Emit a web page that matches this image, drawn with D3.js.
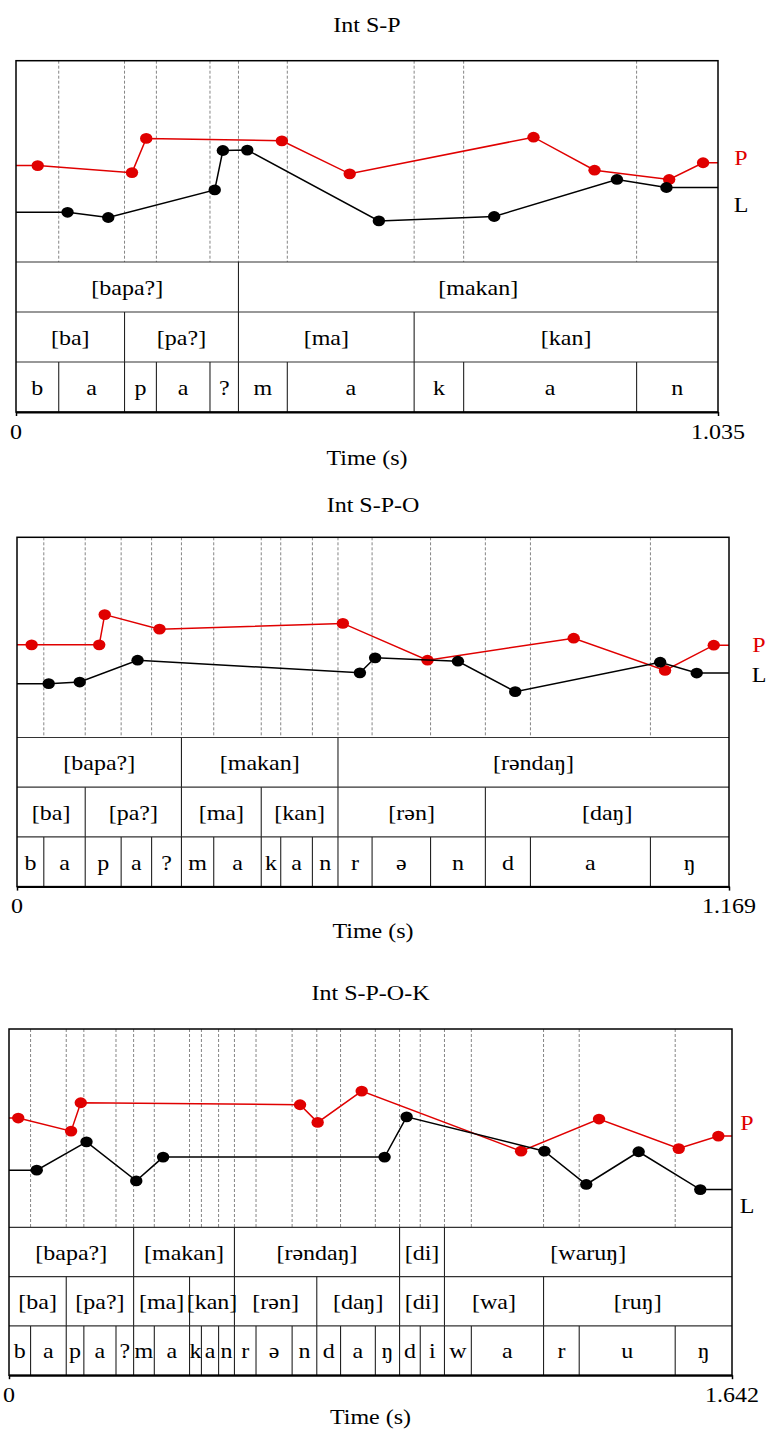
<!DOCTYPE html>
<html>
<head>
<meta charset="utf-8">
<script src="https://cdn.jsdelivr.net/npm/d3@7"></script>
<style>
  body { margin: 0; background: #fff; }
  svg text { font-family: "Liberation Serif", "Times New Roman", serif; }
</style>
</head>
<body>
<svg id="chart" width="766" height="1430"></svg>
<script>

// ---- Int S-P ----
let sp_titles = "Int S-P",
    sp_end = 1.035;
let sp_redT = [0.032, 0.171, 0.192, 0.392, 0.492, 0.763, 0.853, 0.963, 1.013],
    sp_redV = [47.9, 44.4, 61.4, 60.2, 43.8, 62.0, 45.6, 41.0, 49.3],
    sp_blackT = [0.076, 0.136, 0.293, 0.305, 0.341, 0.535, 0.705, 0.886, 0.959],
    sp_blackV = [24.7, 22.1, 35.8, 55.4, 55.6, 20.4, 22.6, 41.0, 37.0];
let sp_words = ["[bapa?]", "[makan]"],
    sp_wordEnds = [0.328, 1.035],
    sp_syls = ["[ba]", "[pa?]", "[ma]", "[kan]"],
    sp_sylEnds = [0.160, 0.328, 0.587, 1.035],
    sp_segs = ["b", "a", "p", "a", "?", "m", "a", "k", "a", "n"],
    sp_segEnds = [0.063, 0.160, 0.207, 0.286, 0.328, 0.400, 0.587, 0.660, 0.915, 1.035];

// ---- Int S-P-O ----
let spo_titles = "Int S-P-O",
    spo_end = 1.169;
let spo_redT = [0.024, 0.135, 0.144, 0.234, 0.535, 0.674, 0.914, 1.064, 1.144],
    spo_redV = [46.3, 46.3, 61.4, 54.1, 57.0, 38.6, 49.6, 33.5, 46.1],
    spo_blackT = [0.052, 0.103, 0.198, 0.563, 0.588, 0.724, 0.818, 1.056, 1.116],
    spo_blackV = [26.9, 27.7, 38.6, 32.3, 39.8, 38.1, 22.9, 37.6, 32.2];
let spo_words = ["[bapa?]", "[makan]", "[rəndaŋ]"],
    spo_wordEnds = [0.270, 0.527, 1.169],
    spo_syls = ["[ba]", "[pa?]", "[ma]", "[kan]", "[rən]", "[daŋ]"],
    spo_sylEnds = [0.112, 0.270, 0.401, 0.527, 0.769, 1.169],
    spo_segs = ["b", "a", "p", "a", "?", "m", "a", "k", "a", "n", "r", "ə", "n", "d", "a", "ŋ"],
    spo_segEnds = [0.044, 0.112, 0.171, 0.221, 0.270, 0.323, 0.401, 0.433, 0.485, 0.527,
                   0.583, 0.679, 0.769, 0.843, 1.040, 1.169];

// ---- Int S-P-O-K ----
let spok_titles = "Int S-P-O-K",
    spok_end = 1.642;
let spok_redT = [0.021, 0.141, 0.163, 0.661, 0.701, 0.801, 1.163, 1.340, 1.521, 1.611],
    spok_redV = [55.1, 48.5, 62.8, 61.8, 52.9, 68.7, 38.4, 54.6, 39.7, 46.0],
    spok_blackT = [0.063, 0.176, 0.289, 0.350, 0.853, 0.903, 1.216, 1.311, 1.430, 1.570],
    spok_blackV = [28.8, 43.1, 23.4, 35.4, 35.4, 55.7, 38.4, 21.6, 38.1, 19.0];
let spok_words = ["[bapa?]", "[makan]", "[rəndaŋ]", "[di]", "[waruŋ]"],
    spok_wordEnds = [0.283, 0.512, 0.887, 0.989, 1.642],
    spok_syls = ["[ba]", "[pa?]", "[ma]", "[kan]", "[rən]", "[daŋ]", "[di]", "[wa]", "[ruŋ]"],
    spok_sylEnds = [0.130, 0.283, 0.410, 0.512, 0.699, 0.887, 0.989, 1.214, 1.642],
    spok_segs = ["b", "a", "p", "a", "?", "m", "a", "k", "a", "n", "r", "ə", "n", "d", "a", "ŋ",
                 "d", "i", "w", "a", "r", "u", "ŋ"],
    spok_segEnds = [0.049, 0.130, 0.170, 0.243, 0.283, 0.330, 0.410, 0.437, 0.476, 0.512,
                    0.561, 0.643, 0.699, 0.753, 0.832, 0.887, 0.934, 0.989, 1.050, 1.214,
                    1.295, 1.513, 1.642];

let series_labels = ["P", "L"],
    axis_title = "Time (s)";

let red = "#e00000",
    stretch = 1.2,
    font_size = 20;

let svg = d3.select("#chart");


// tiers: list of [labels, ends]; returns intervals with start/end
function intervals(labels, ends) {
  return labels.map((d, i) => ({label: d, start: i == 0 ? 0 : ends[i - 1], end: ends[i]}))
}


// stretched text, like the original figure
function stext(g, x, y, str, color) {
  return g.append("text")
    .attr("transform", `translate(${x},${y}) scale(${stretch},1)`)
    .attr("text-anchor", "middle")
    .attr("dominant-baseline", "central")
    .attr("font-size", font_size)
    .attr("fill", color || "#000")
    .text(str);
}


function draw_panel(p) {
  let g = svg.append("g");
  let x = d3.scaleLinear().domain([0, p.end]).range([p.left, p.right]),
      y = d3.scaleLinear().domain([0, 100]).range([p.plotBottom, p.top]);

  let tiers = [intervals(p.words, p.wordEnds),
               intervals(p.syls, p.sylEnds),
               intervals(p.segs, p.segEnds)];
  let bottom = p.plotBottom + 3 * p.rowH;

  // dotted segment boundaries across the pitch area
  g.selectAll(".dot")
    .data(p.segEnds.slice(0, -1)).enter()
    .append("line")
    .attr("x1", d => x(d)).attr("x2", d => x(d))
    .attr("y1", p.top).attr("y2", p.plotBottom)
    .attr("stroke", "#777")
    .attr("stroke-width", 0.9)
    .attr("stroke-dasharray", "3,2");

  // tiers
  tiers.forEach((tier, k) => {
    let y0 = p.plotBottom + k * p.rowH;
    g.append("line")
      .attr("x1", p.left).attr("x2", p.right)
      .attr("y1", y0).attr("y2", y0)
      .attr("stroke", "#333").attr("stroke-width", 1.2);
    g.selectAll(null)
      .data(tier.slice(0, -1)).enter()
      .append("line")
      .attr("x1", d => x(d.end)).attr("x2", d => x(d.end))
      .attr("y1", y0).attr("y2", y0 + p.rowH)
      .attr("stroke", "#222").attr("stroke-width", 1.1);
    tier.forEach(d => stext(g, (x(d.start) + x(d.end)) / 2, y0 + p.rowH / 2 + 1, d.label));
  });

  // pitch lines, extended flat to the edges
  let line = d3.line().x(d => x(d[0])).y(d => y(d[1]));
  let series = [
    {t: p.redT, v: p.redV, color: red},
    {t: p.blackT, v: p.blackV, color: "#000"}
  ];
  series.forEach(s => {
    let pts = s.t.map((t, i) => [t, s.v[i]]);
    let full = [[0, s.v[0]]].concat(pts, [[p.end, s.v[s.v.length - 1]]]);
    g.append("path")
      .attr("d", line(full))
      .attr("fill", "none")
      .attr("stroke", s.color)
      .attr("stroke-width", 1.5);
    g.selectAll(null)
      .data(pts).enter()
      .append("ellipse")
      .attr("cx", d => x(d[0])).attr("cy", d => y(d[1]))
      .attr("rx", 6.2).attr("ry", 5.4)
      .attr("fill", s.color);
  });

  // frame
  g.append("rect")
    .attr("x", p.left).attr("y", p.top)
    .attr("width", p.right - p.left).attr("height", bottom - p.top)
    .attr("fill", "none").attr("stroke", "#000").attr("stroke-width", 1.5);

  // time axis
  let axis = d3.axisBottom(x).tickValues([0, p.end]).tickSize(4).tickSizeOuter(0).tickFormat("");
  let ax = g.append("g").attr("transform", `translate(0,${bottom})`).call(axis);
  ax.select(".domain").attr("stroke-width", 2);
  ax.selectAll(".tick line").attr("stroke-width", 1.5);
  [0, p.end].forEach(v => stext(g, x(v), bottom + 20, v === 0 ? "0" : d3.format(".3f")(v)));
  stext(g, (p.left + p.right) / 2, bottom + p.timeGap, axis_title);

  // title
  stext(g, (p.left + p.right) / 2, p.top - p.titleGap, p.title);

  // P / L labels
  stext(g, p.right + p.labelDx, p.top + p.labelP, series_labels[0], red);
  stext(g, p.right + p.labelDx, p.top + p.labelL, series_labels[1]);
}


draw_panel({
  title: sp_titles, end: sp_end,
  redT: sp_redT, redV: sp_redV, blackT: sp_blackT, blackV: sp_blackV,
  words: sp_words, wordEnds: sp_wordEnds, syls: sp_syls, sylEnds: sp_sylEnds,
  segs: sp_segs, segEnds: sp_segEnds,
  left: 16, right: 718, top: 60.7, plotBottom: 262, rowH: 50,
  titleGap: 35, timeGap: 46, labelDx: 23, labelP: 98, labelL: 145
});

draw_panel({
  title: spo_titles, end: spo_end,
  redT: spo_redT, redV: spo_redV, blackT: spo_blackT, blackV: spo_blackV,
  words: spo_words, wordEnds: spo_wordEnds, syls: spo_syls, sylEnds: spo_sylEnds,
  segs: spo_segs, segEnds: spo_segEnds,
  left: 17, right: 729, top: 537.3, plotBottom: 737.5, rowH: 49.7,
  titleGap: 32, timeGap: 45, labelDx: 30, labelP: 108, labelL: 138
});

draw_panel({
  title: spok_titles, end: spok_end,
  redT: spok_redT, redV: spok_redV, blackT: spok_blackT, blackV: spok_blackV,
  words: spok_words, wordEnds: spok_wordEnds, syls: spok_syls, sylEnds: spok_sylEnds,
  segs: spok_segs, segEnds: spok_segEnds,
  left: 9, right: 732, top: 1029, plotBottom: 1227.3, rowH: 49.3,
  titleGap: 36, timeGap: 42, labelDx: 15, labelP: 94, labelL: 177
});

</script>
</body>
</html>
